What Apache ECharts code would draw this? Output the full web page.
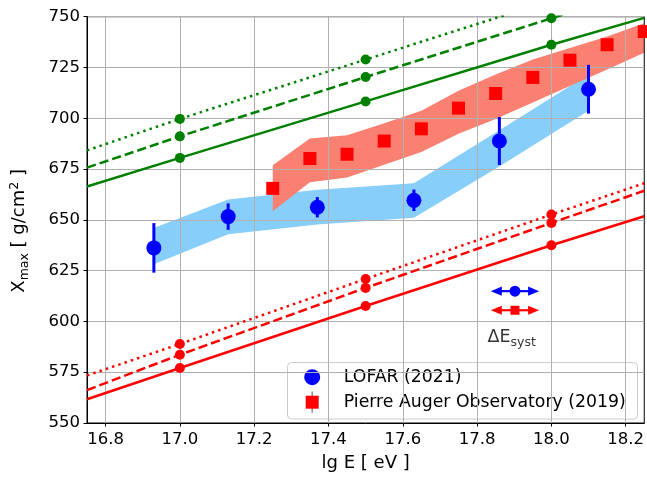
<!DOCTYPE html>
<html>
<head>
<meta charset="utf-8">
<script src="https://cdn.jsdelivr.net/npm/echarts@6/dist/echarts.min.js"></script>
<style>
html,body{margin:0;padding:0;background:#fff;}
#chart{width:647px;height:477px;}
</style>
</head>
<body>
<div id="chart"></div>
<script>
// ---------------- data ----------------
const xTicks = [16.8, 17.0, 17.2, 17.4, 17.6, 17.8, 18.0, 18.2];

const lofarX   = [16.93, 17.13, 17.37, 17.63, 17.86, 18.10];
const lofarY   = [636.2, 651.6, 656.2, 659.6, 688.8, 714.3];
const lofarErr = [12.2, 6.5, 5.0, 5.3, 11.8, 12.0];
const lofarBandHi = [646.0, 660.0, 664.8, 668.0, 694.1, 721.6];
const lofarBandLo = [628.2, 642.9, 647.7, 651.0, 676.3, 703.7];

const augerX = [17.25, 17.35, 17.45, 17.55, 17.65, 17.75, 17.85, 17.95, 18.05, 18.15, 18.25];
const augerY = [665.5, 680.2, 682.3, 688.8, 694.8, 705.0, 712.2, 720.1, 728.6, 736.2, 742.7];
const augerBandHi = [676.9, 690.0, 691.6, 697.6, 703.7, 713.5, 721.6, 728.9, 734.6, 740.3, 746.8];
const augerBandLo = [654.2, 668.5, 670.8, 677.1, 683.4, 692.4, 699.7, 707.8, 715.9, 724.0, 732.2];

const modelX = [16.75, 17.0, 17.5, 18.0, 18.25];
const greenSolid  = [666.4, 680.5, 708.3, 736.2, 749.4];
const greenDashed = [675.7, 691.1, 720.3, 749.2, 763.8];
const greenDotted = [684.2, 699.7, 728.9, 758.1, 772.6];
const redSolid  = [561.7, 577.1, 607.6, 637.5, 651.8];
const redDashed = [566.2, 583.6, 616.5, 648.5, 664.3];
const redDotted = [573.4, 588.9, 620.9, 652.6, 668.0];

// systematic energy-scale arrows: [xLeft, xRight, y, xMarker]
const sysLofar = [17.837, 17.967, 614.9, 17.902];
const sysAuger = [17.837, 17.967, 605.5, 17.902];
const sysLabelPos = [17.893, 592.0];

// ---------------- chart ----------------
const FONT = 'DejaVu Sans';
const chart = echarts.init(document.getElementById('chart'), null, {renderer: 'canvas'});

function bandSeries(xs, hi, lo, color) {
  return {
    type: 'custom',
    z: 1,
    clip: true,
    silent: true,
    data: [[xs[0], hi[0]]],
    renderItem: function (params, api) {
      const pts = [];
      for (let i = 0; i < xs.length; i++) pts.push(api.coord([xs[i], hi[i]]));
      for (let i = xs.length - 1; i >= 0; i--) pts.push(api.coord([xs[i], lo[i]]));
      return {type: 'polygon', shape: {points: pts}, style: {fill: color, stroke: null}};
    }
  };
}

function modelSeries(vals, color, dash) {
  const last = modelX.length - 1;
  return {
    type: 'line',
    z: 4,
    clip: true,
    silent: true,
    showAllSymbol: true,
    symbolSize: 10,
    data: modelX.map((x, i) => ({
      value: [x, vals[i]],
      symbol: (i === 0 || i === last) ? 'none' : 'circle'
    })),
    itemStyle: {color: color},
    lineStyle: {color: color, width: 2.5, type: dash, cap: 'butt'}
  };
}

function arrowSeries(spec, color, markerSymbol, markerSize) {
  return [{
    type: 'custom',
    z: 6,
    silent: true,
    data: [[spec[0], spec[1], spec[2]]],
    renderItem: function (params, api) {
      const p1 = api.coord([api.value(0), api.value(2)]);
      const p2 = api.coord([api.value(1), api.value(2)]);
      const hl = 11, hw = 4.6;
      return {
        type: 'group',
        children: [
          {type: 'line', shape: {x1: p1[0] + hl - 1, y1: p1[1], x2: p2[0] - hl + 1, y2: p2[1]},
           style: {stroke: color, lineWidth: 2.2}},
          {type: 'polygon', shape: {points: [[p1[0], p1[1]], [p1[0] + hl, p1[1] - hw], [p1[0] + hl, p1[1] + hw]]},
           style: {fill: color}},
          {type: 'polygon', shape: {points: [[p2[0], p2[1]], [p2[0] - hl, p2[1] - hw], [p2[0] - hl, p2[1] + hw]]},
           style: {fill: color}}
        ]
      };
    }
  }, {
    type: 'scatter',
    z: 7,
    silent: true,
    symbol: markerSymbol,
    symbolSize: markerSize,
    itemStyle: {color: color, opacity: 1},
    data: [[spec[3], spec[2]]]
  }];
}

const option = {
  animation: false,
  backgroundColor: '#ffffff',
  textStyle: {fontFamily: FONT},
  grid: {
    left: 85.6, right: 1.1, top: 16.7, bottom: 49.7,
    show: true, borderColor: '#000000', borderWidth: 1, backgroundColor: 'transparent',
    z: 3
  },
  xAxis: {
    type: 'value',
    min: 16.75, max: 18.25,
    z: 3,
    name: 'lg E [ eV ]',
    nameLocation: 'middle',
    nameGap: 31,
    nameTextStyle: {fontFamily: FONT, fontSize: 18, color: '#000'},
    axisLine: {show: true, onZero: false, lineStyle: {color: '#000', width: 1}},
    axisTick: {show: true, inside: false, length: 3.5, lineStyle: {color: '#000', width: 1}, customValues: xTicks},
    axisLabel: {show: true, margin: 8, fontFamily: FONT, fontSize: 16.5, color: '#000',
      customValues: xTicks, formatter: v => Number(v).toFixed(1)},
    splitLine: {show: true, lineStyle: {color: '#b0b0b0', width: 1}}
  },
  yAxis: {
    type: 'value',
    min: 550, max: 750, interval: 25,
    z: 3,
    name: '{x|X}{s|max}{n| [ g/cm}{p|2}{n| ]}',
    nameLocation: 'middle',
    nameRotate: 90,
    nameGap: 55,
    nameTextStyle: {
      fontFamily: FONT, fontSize: 18, color: '#000',
      padding: [0, 22, 0, 0],
      rich: {
        x: {fontFamily: FONT, fontSize: 18, color: '#000', lineHeight: 26, verticalAlign: 'middle'},
        n: {fontFamily: FONT, fontSize: 18, color: '#000', lineHeight: 26, verticalAlign: 'middle'},
        s: {fontFamily: FONT, fontSize: 12.5, color: '#000', verticalAlign: 'bottom', padding: [0, 0, 1, 0]},
        p: {fontFamily: FONT, fontSize: 12.5, color: '#000', verticalAlign: 'top', padding: [2, 0, 0, 0]}
      }
    },
    axisLine: {show: true, onZero: false, lineStyle: {color: '#000', width: 1}},
    axisTick: {show: true, inside: false, length: 3.5, lineStyle: {color: '#000', width: 1}},
    axisLabel: {show: true, margin: 7, fontFamily: FONT, fontSize: 16.5, color: '#000'},
    splitLine: {show: true, lineStyle: {color: '#b0b0b0', width: 1}}
  },
  series: [
    bandSeries(lofarX, lofarBandHi, lofarBandLo, '#87cefa'),
    bandSeries(augerX, augerBandHi, augerBandLo, '#fa8072'),
    modelSeries(greenSolid, '#008000', 'solid'),
    modelSeries(greenDashed, '#008000', [9.25, 4]),
    modelSeries(greenDotted, '#008000', [2.5, 4.1]),
    modelSeries(redSolid, '#ff0000', 'solid'),
    modelSeries(redDashed, '#ff0000', [9.25, 4]),
    modelSeries(redDotted, '#ff0000', [2.5, 4.1]),
    {
      type: 'custom',
      z: 5,
      silent: true,
      data: lofarX.map((x, i) => [x, lofarY[i], lofarErr[i]]),
      renderItem: function (params, api) {
        const a = api.coord([api.value(0), api.value(1) - api.value(2)]);
        const b = api.coord([api.value(0), api.value(1) + api.value(2)]);
        return {type: 'line', shape: {x1: a[0], y1: a[1], x2: b[0], y2: b[1]},
          style: {stroke: '#0000ff', lineWidth: 3}};
      }
    },
    {
      type: 'scatter',
      z: 6,
      silent: true,
      symbol: 'circle',
      symbolSize: 15,
      itemStyle: {color: '#0000ff', opacity: 1},
      data: lofarX.map((x, i) => [x, lofarY[i]])
    },
    {
      type: 'scatter',
      z: 6,
      silent: true,
      symbol: 'rect',
      symbolSize: 13,
      itemStyle: {color: '#ff0000', opacity: 1},
      data: augerX.map((x, i) => [x, augerY[i]])
    },
    ...arrowSeries(sysLofar, '#0000ff', 'circle', 11),
    ...arrowSeries(sysAuger, '#ff0000', 'rect', 9),
    {
      type: 'scatter',
      z: 6,
      silent: true,
      symbolSize: 1,
      itemStyle: {color: 'rgba(0,0,0,0)'},
      data: [sysLabelPos],
      label: {
        show: true, position: 'inside',
        formatter: '{a|ΔE}{b|syst}',
        rich: {
          a: {fontFamily: FONT, fontSize: 17.5, color: '#000', verticalAlign: 'middle', lineHeight: 22},
          b: {fontFamily: FONT, fontSize: 12.5, color: '#000', verticalAlign: 'bottom', padding: [0, 0, -1, 0]}
        }
      }
    }
  ],
  graphic: [{
    type: 'group',
    left: 287, top: 362, z: 100,
    children: [
      {type: 'rect', shape: {x: 0, y: 0, width: 350, height: 56.5, r: 4},
       style: {fill: 'rgba(255,255,255,0.8)', stroke: '#cccccc', lineWidth: 1}},
      {type: 'circle', shape: {cx: 24.7, cy: 14.7, r: 8}, style: {fill: '#0000ff'}},
      {type: 'line', shape: {x1: 24.7, y1: 29, x2: 24.7, y2: 50}, style: {stroke: '#888888', lineWidth: 1.5}},
      {type: 'rect', shape: {x: 18.2, y: 33.2, width: 13, height: 13}, style: {fill: '#ff0000'}},
      {type: 'text', x: 56.3, y: 14.7, style: {text: 'LOFAR (2021)', fontFamily: FONT, fontSize: 17.3,
        fill: '#000', verticalAlign: 'middle', align: 'left'}},
      {type: 'text', x: 56.3, y: 39.7, style: {text: 'Pierre Auger Observatory (2019)', fontFamily: FONT, fontSize: 17.3,
        fill: '#000', verticalAlign: 'middle', align: 'left'}}
    ]
  }]
};
chart.setOption(option);
</script>
</body>
</html>
